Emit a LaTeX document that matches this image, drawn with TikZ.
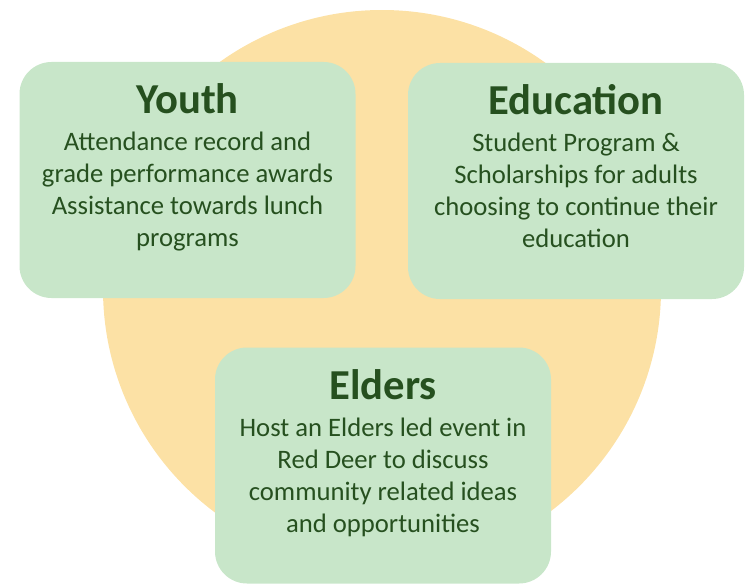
\documentclass[tikz,border=0pt]{standalone}
\usepackage{fontspec}
\setmainfont{Carlito}
\usetikzlibrary{positioning}
\definecolor{sunfill}{HTML}{FCE1A5}
\definecolor{boxfill}{HTML}{C8E6C9}
\definecolor{leafgreen}{HTML}{26501F}
\tikzset{
  area/.style={fill=boxfill, rounded corners=24pt, minimum width=252pt, minimum height=177pt, inner sep=0pt},
  heading/.style={anchor=base, text=leafgreen, inner sep=0pt, font=\fontsize{32}{38}\selectfont\bfseries},
  detail/.style={anchor=base, text=leafgreen, inner sep=0pt, align=center, font=\fontsize{20}{24}\selectfont}
}
\begin{document}
\begin{tikzpicture}[x=0.75pt, y=-0.75pt]
      \useasboundingbox (0, 0) rectangle (748, 585);
      \fill [sunfill] (382, 289) circle [radius=209.25pt];
      \node [area] (youth) at (187.5, 180) {};
      \node [area] (educ) at (576, 181) {};
      \node [area] (elders) at (383, 465.5) {};
      \node [heading] (youthhead) at ([yshift=-39pt]youth.north) {Youth};
      \node [heading] (educhead) at ([yshift=-39pt]educ.north) {Education};
      \node [heading] (eldershead) at ([yshift=-39pt]elders.north) {Elders};
      % base of a multi-line node is its last line
      \node [detail] (youthtext) at ([yshift=-99.75pt]youthhead.base)
            {Attendance record and\\grade performance awards\\Assistance towards lunch\\programs};
      \node [detail] (eductext) at ([yshift=-99.75pt]educhead.base)
            {Student Program \&\\Scholarships for adults\\choosing to continue their\\education};
      \node [detail] (elderstext) at ([yshift=-99.75pt]eldershead.base)
            {Host an Elders led event in\\Red Deer to discuss\\community related ideas\\and opportunities};
\end{tikzpicture}
\end{document}
